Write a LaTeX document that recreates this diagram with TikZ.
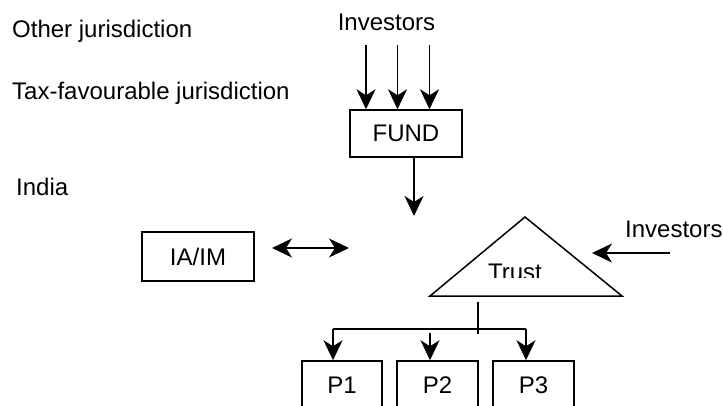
\documentclass[tikz,border=0pt]{standalone}
\usepackage{fontspec}
\setmainfont{Liberation Sans}
\usetikzlibrary{arrows.meta}
\begin{document}
\begin{tikzpicture}[x=1pt,y=-1pt,
  every node/.style={font=\fontsize{24}{28}\selectfont, inner sep=0pt},
  box/.style={draw, line width=1.5pt},
  ln/.style={line width=1.6pt},
  tip/.tip={Stealth[length=20pt,width=19pt,inset=6pt]},
  arr/.style={ln, -tip},
  darr/.style={ln, tip-tip}]
\useasboundingbox (0,0) rectangle (723,405);
\clip (0,0) rectangle (723,405);
% jurisdiction labels
\node[anchor=base west] (other) at (12,37) {Other jurisdiction};
\node[anchor=base west] (tax) at (12,99) {Tax-favourable jurisdiction};
\node[anchor=base west] (india) at (16,195) {India};
% top investors and fund
\node[anchor=base] (inv1) at (386.5,30) {Investors};
\node[box, minimum width=112pt, minimum height=47pt] (fund) at (406,133.5) {FUND};
\coordinate (a1) at (366,45);
\coordinate (a2) at (397.5,45);
\coordinate (a3) at (429.5,45);
\draw[arr] (a1) -- (a1 |- fund.north);
\draw[arr] (a2) -- (a2 |- fund.north);
\draw[arr] (a3) -- (a3 |- fund.north);
\coordinate (f1) at (414,216);
\draw[arr] (f1 |- fund.south) -- (f1);
% IA/IM
\node[box, minimum width=112pt, minimum height=49pt] (iaim) at (198,256.5) {IA/IM};
\coordinate (d1) at (272,248);
\coordinate (d2) at (349,248);
\draw[darr] (d1) -- (d2);
% trust triangle
\coordinate (tA) at (525,217);
\coordinate (tL) at (430,296);
\coordinate (tR) at (622,296);
\draw[box, line join=miter] (tL) -- (tA) -- (tR) -- cycle;
\begin{scope}
\clip (430,250) rectangle (622,277.5);
\node[anchor=base] (trust) at (515,280) {Trust};
\end{scope}
% right investors
\node[anchor=base west] (inv2) at (625,237) {Investors};
\coordinate (r1) at (670,253);
\coordinate (r2) at (592,253);
\draw[arr] (r1) -- (r2);
% P boxes
\node[box, minimum width=80pt, minimum height=48pt] (p1) at (342,385) {P1};
\node[box, minimum width=81pt, minimum height=48pt] (p2) at (437.5,385) {P2};
\node[box, minimum width=81pt, minimum height=48pt] (p3) at (533.5,385) {P3};
% distribution lines
\coordinate (s1) at (478,302);
\coordinate (s2) at (478,334);
\draw[ln] (s1) -- (s2);
\coordinate (h1) at (333,329);
\coordinate (h2) at (526,329);
\draw[ln] (h1) -- (h2);
\draw[arr] (h1) -- (h1 |- p1.north);
\coordinate (m1) at (430,333);
\draw[arr] (m1) -- (m1 |- p2.north);
\draw[arr] (h2) -- (h2 |- p3.north);
\end{tikzpicture}
\end{document}
